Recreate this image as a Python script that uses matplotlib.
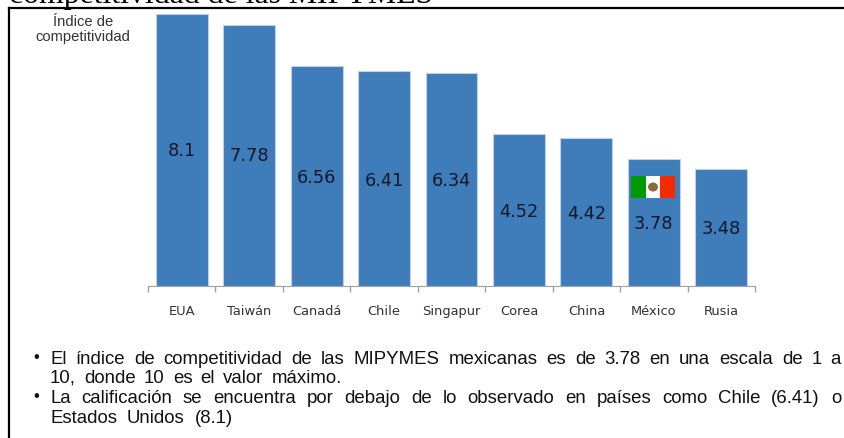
import matplotlib
matplotlib.use("Agg")
import matplotlib.pyplot as plt
from matplotlib.patches import Rectangle, Ellipse
from matplotlib.lines import Line2D

paises = ["EUA", "Taiwán", "Canadá", "Chile", "Singapur", "Corea", "China", "México", "Rusia"]
indice = [8.1, 7.78, 6.56, 6.41, 6.34, 4.52, 4.42, 3.78, 3.48]
etiquetas = ["8.1", "7.78", "6.56", "6.41", "6.34", "4.52", "4.42", "3.78", "3.48"]
pos_etiquetas = [4.05, 3.89, 3.26, 3.17, 3.15, 2.24, 2.18, 1.87, 1.72]
titulo_y = ["Índice de", "competitividad"]
viñetas = [
    ["El índice de competitividad de las MIPYMES mexicanas es de 3.78 en una escala de 1 a",
     "10, donde 10 es el valor máximo."],
    ["La calificación se encuentra por debajo de lo observado en países como Chile (6.41) o",
     "Estados Unidos (8.1)"],
]
W, H = 844, 439
fig = plt.figure(figsize=(W/100, H/100), dpi=100, facecolor="white")
def px(x, y, w, h):
    return [x/W, 1-(y+h)/H, w/W, h/H]
ax = fig.add_axes(px(148, 15, 607, 272))
ax.bar(range(9), indice, width=0.77, color="#3F7CBA", edgecolor="#BCD2EA", linewidth=0.8)
ax.set_xlim(-0.5, 8.5)
ax.set_ylim(0, 8.1)
ax.set_yticks([])
for s in ("top", "left", "right"):
    ax.spines[s].set_visible(False)
ax.spines["bottom"].set_color("#A0A0A0")
ax.set_xticks([i-0.5 for i in range(10)])
ax.set_xticklabels([])
ax.tick_params(axis="x", length=4, color="#A0A0A0", width=1)
for i, (p, e, yp) in enumerate(zip(paises, etiquetas, pos_etiquetas)):
    ax.annotate(p, (i, 0), xytext=(0, -17.5), textcoords="offset points", ha="center", va="center",
                fontsize=9.4, color="#333333", family="DejaVu Sans")
    ax.text(i, yp, e, ha="center", va="center", fontsize=12.8, color="#10182A", family="DejaVu Sans")
# México flag
fx, fy, fw, fh = 631, 177, 44, 22
for k, c in enumerate(["#009A00", "#FFFFFF", "#F42A00"]):
    fig.add_artist(Rectangle(((fx+k*fw/3)/W, 1-(fy+fh)/H), fw/3/W, fh/H, transform=fig.transFigure, color=c, lw=0, zorder=5))
fig.add_artist(Ellipse(((fx+fw/2)/W, 1-(fy+fh/2)/H), 10/W, 9/H, transform=fig.transFigure, color="#8A6A3A", lw=0, zorder=6))
# frame
fig.add_artist(Line2D([8.5/W, 8.5/W], [0, 1-9/H], color="black", lw=1.6))
fig.add_artist(Line2D([8.5/W, 1], [1-9/H, 1-9/H], color="black", lw=1.6))
fig.text(83/W, 1-22.5/H, titulo_y[0], ha="center", va="center", fontsize=10.6, color="#333333", family="Liberation Sans")
fig.text(83/W, 1-36.5/H, titulo_y[1], ha="center", va="center", fontsize=10.6, color="#333333", family="Liberation Sans")
# cropped title
fig.text(9/W, 1-3/H, "competitividad de las MIPYMES", ha="left", va="baseline", fontsize=22.9, color="black", family="Liberation Serif")

# bullets, justified word by word to each line's right end
renderer = fig.canvas.get_renderer()
def linea(t, y, derecha):
    kw = dict(ha="left", va="baseline", fontsize=13.4, family="Liberation Sans", color="#111111")
    palabras = t.split(" ")
    objs = [fig.text(0, 1-y/H, p, **kw) for p in palabras]
    anchos = [o.get_window_extent(renderer).width for o in objs]
    hueco = (derecha-50-sum(anchos))/(len(palabras)-1)
    x = 50
    for o, a in zip(objs, anchos):
        o.set_x(x/W)
        x += a+hueco
ys = [[364, 383], [403, 423]]
finales = [[841, 342], [841, 233]]
for lines, yy, ff in zip(viñetas, ys, finales):
    fig.text(36/W, 1-(yy[0]-6)/H, "•", ha="center", va="center", fontsize=12, family="Liberation Sans", color="#111111")
    linea(lines[0], yy[0], ff[0])
    linea(lines[1], yy[1], ff[1])
fig.savefig("out.png", dpi=100)
